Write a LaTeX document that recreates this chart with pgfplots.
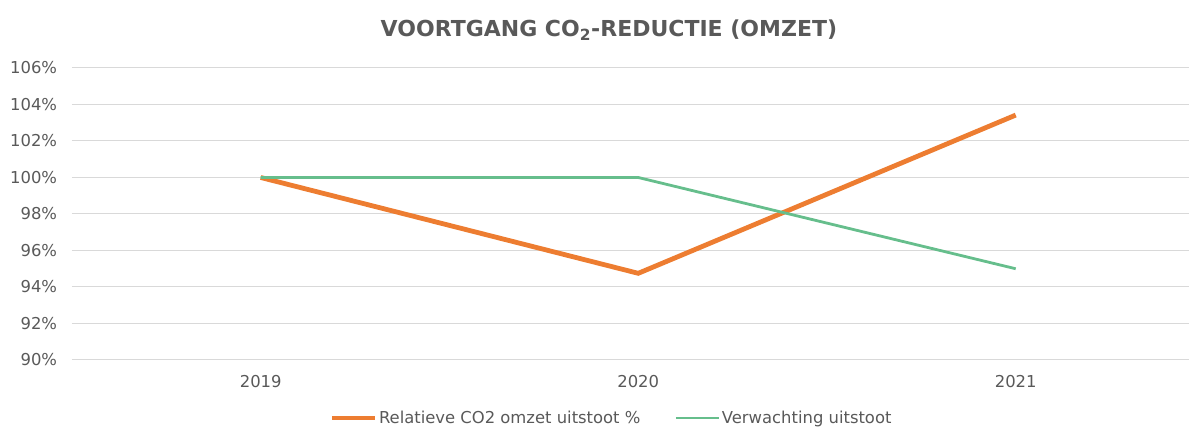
\documentclass[border=0pt]{standalone}
\usepackage{fontspec}
\setmainfont{DejaVu Sans}
\usepackage{pgfplots}
\pgfplotsset{compat=1.18}
\definecolor{cOrange}{HTML}{ED7D31}
\definecolor{cGreen}{RGB}{102,190,140}
\definecolor{cGrid}{HTML}{D9D9D9}
\definecolor{cText}{HTML}{595959}
\begin{document}
\begin{tikzpicture}
\useasboundingbox (-54pt,-51pt) rectangle (837.75pt,270pt);
\begin{axis}[
  at={(0,0)}, anchor=south west,
  scale only axis,
  width=837.75pt, height=219pt,
  xmin=-0.5, xmax=2.459,
  ymin=90, ymax=106,
  ytick={90,92,...,106},
  xtick={0,1,2},
  xticklabels={2019,2020,2021},
  yticklabel={\pgfmathprintnumber{\tick}\%},
  /pgf/number format/assume math mode=true,
  axis line style={draw=none},
  major tick length=0pt,
  ymajorgrids=true,
  grid style={cGrid, line width=0.75pt},
  font=\fontsize{12.3pt}{14pt}\selectfont,
  ticklabel style={text=cText, font=\fontsize{12.3pt}{14pt}\selectfont},
  yticklabel style={anchor=east, inner sep=0pt, xshift=-11pt},
  xticklabel style={anchor=north, inner sep=0pt, yshift=-11.2pt},
  clip=false,
  legend columns=2,
  legend style={at={(0.483,-0.1986)}, anchor=center, draw=none, fill=none,
    font=\fontsize{12.3pt}{14pt}\selectfont, text=cText,
    /tikz/every even column/.append style={column sep=24pt},
    inner sep=0pt, nodes={inner sep=1.5pt}, cells={anchor=west}},
  legend image code/.code={\draw[#1] (0pt,0pt) -- (32pt,0pt);},
]
\addplot[cOrange, line width=3.6pt, line join=miter] coordinates {(0,100) (1,94.75) (2,103.42)};
\addlegendentry{Relatieve CO2 omzet uitstoot \%}
\addplot[cGreen, line width=2.1pt] coordinates {(0,100) (1,100) (2,95)};
\addlegendentry{Verwachting uitstoot}
\node[font=\bfseries\fontsize{16.5pt}{19pt}\selectfont, text=cText] at (axis description cs:0.4807,1.130) {VOORTGANG CO\textsubscript{2}-REDUCTIE (OMZET)};
\end{axis}
\end{tikzpicture}
\end{document}
